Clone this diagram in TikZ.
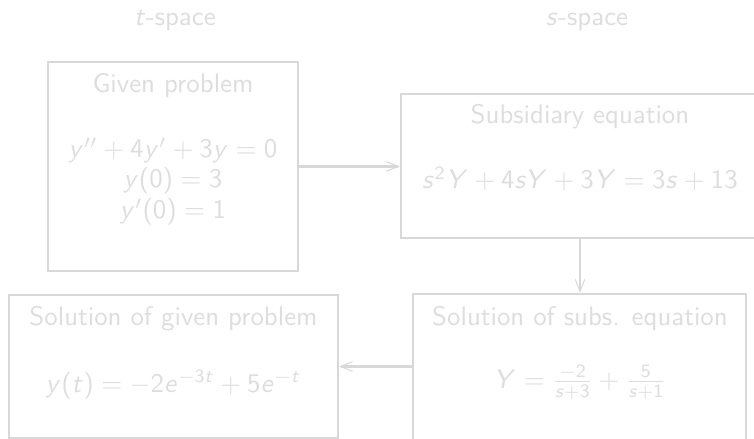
\documentclass[tikz,border=0pt]{standalone}
\usepackage{fix-cm}
\usetikzlibrary{arrows.meta}
\SetSymbolFont{operators}{normal}{OT1}{cmss}{m}{n}
\SetSymbolFont{letters}{normal}{OT1}{cmss}{m}{sl}
\definecolor{linegray}{RGB}{216,216,216}
\definecolor{txtgray}{RGB}{221,221,221}
\begin{document}
\begin{tikzpicture}[x=0.4pt,y=-0.4pt]
\tikzset{
  panel/.style={draw=linegray, line width=1pt, rectangle, inner sep=0pt},
  lbl/.style={text=txtgray, font=\fontsize{10.75}{13}\selectfont\sffamily, anchor=base, inner sep=0pt},
  conn/.style={draw=linegray, line width=1pt, -{Straight Barb[length=4.8pt, width=3.8pt, line width=0.4pt]}}
}
\clip (0,0) rectangle (754,439);
% boxes
\node[panel, minimum width=100pt, minimum height=83.6pt] (given) at (173,166.5) {};
\node[panel, minimum width=143.2pt, minimum height=57.6pt] (subs) at (580,166) {};
\node[panel, minimum width=133.2pt, minimum height=66.4pt] (solsubs) at (579.5,377) {};
\node[panel, minimum width=131.6pt, minimum height=57.2pt] (solgiven) at (173.5,366.5) {};
% headers
\node[lbl] (tsp) at (175,26) {$t$-space};
\node[lbl] (ssp) at (587,26) {$s$-space};
% texts
\node[lbl] (gtitle) at (173,93) {Given problem};
\node[lbl] (geq1) at (173,158) {$y''+4y'+3y=0$};
\node[lbl] (geq2) at (173,188) {$y(0)=3$};
\node[lbl] (geq3) at (173,219) {$y'(0)=1$};
\node[lbl] (stitle) at (580,124) {Subsidiary equation};
\node[lbl] (seq) at (580,189) {$s^2Y+4sY+3Y=3s+13$};
\node[lbl] (sstitle) at (580,325) {Solution of subs. equation};
\node[lbl] (sseq) at (580,388) {$Y=\frac{-2}{s+3}+\frac{5}{s+1}$};
\node[lbl] (sgtitle) at (173.5,326) {Solution of given problem};
\node[lbl] (sgeq) at (173.5,392) {$y(t)=-2e^{-3t}+5e^{-t}$};
% connectors
\draw[conn] (given.east) -- (given.east -| subs.west);
\draw[conn] (subs.south) -- (subs.south |- solsubs.north);
\draw[conn] (solsubs.west |- solgiven.east) -- (solgiven.east);
\end{tikzpicture}
\end{document}
